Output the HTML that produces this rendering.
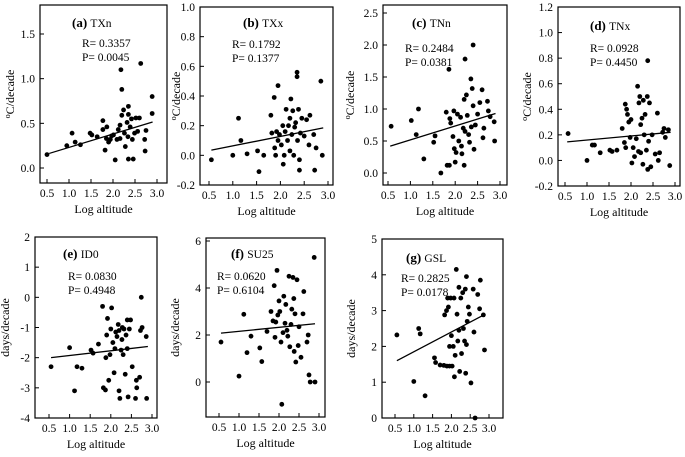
<!DOCTYPE html>
<html><head><meta charset="utf-8">
<style>
html,body{margin:0;padding:0;background:#fff;}
svg{display:block;}
svg text{font-family:"Liberation Serif","DejaVu Serif",serif;}
</style></head>
<body>
<svg id="chart" width="685" height="457" viewBox="0 0 685 457" font-family="Liberation Serif, serif"></svg>
<script>
const xTicks = [0.5, 1.0, 1.5, 2.0, 2.5, 3.0];
const panelTitles = ["(a)|TXn","(b)|TXx","(c)|TNn","(d)|TNx","(e)|ID0","(f)|SU25","(g)|GSL"];
const rLabels = ["R= 0.3357","R= 0.1792","R= 0.2484","R= 0.0928","R= 0.0830","R= 0.0620","R= 0.2825"];
const pLabels = ["P= 0.0045","P= 0.1377","P= 0.0381","P= 0.4450","P= 0.4948","P= 0.6104","P= 0.0178"];
const yTicksA = [0, 0.5, 1.0, 1.5];
const yTicksB = [-0.2, 0, 0.2, 0.4, 0.6, 0.8, 1.0];
const yTicksC = [0, 0.5, 1.0, 1.5, 2.0, 2.5];
const yTicksD = [-0.2, 0, 0.2, 0.4, 0.6, 0.8, 1.0, 1.2];
const yTicksE = [-4, -3, -2, -1, 0, 1, 2];
const yTicksF = [0, 2, 4, 6];
const yTicksG = [0, 1, 2, 3, 4, 5];
const fitA = [0.55, 0.163, 2.9, 0.515];
const fitB = [0.55, 0.035, 2.9, 0.185];
const fitC = [0.55, 0.42, 2.9, 0.93];
const fitD = [0.55, 0.145, 2.9, 0.22];
const fitE = [0.55, -2.0, 2.9, -1.63];
const fitF = [0.55, 2.08, 2.9, 2.48];
const fitG = [0.55, 1.6, 2.9, 2.9];
const dataA = [[0.5,0.15],[0.95,0.25],[1.07,0.39],[1.14,0.29],[1.26,0.26],[1.48,0.39],[1.52,0.37],[1.64,0.35],[1.77,0.43],[1.77,0.53],[1.82,0.2],[1.85,0.33],[1.86,0.46],[1.9,0.29],[1.94,0.32],[1.97,0.36],[2.01,0.37],[2.05,0.09],[2.09,0.32],[2.12,0.43],[2.16,0.33],[2.18,1.1],[2.2,0.88],[2.16,0.48],[2.2,0.59],[2.24,0.65],[2.26,0.39],[2.28,0.24],[2.32,0.51],[2.34,0.35],[2.35,0.69],[2.35,0.6],[2.35,0.1],[2.39,0.46],[2.42,0.55],[2.44,0.32],[2.46,0.1],[2.49,0.39],[2.52,0.56],[2.56,0.41],[2.6,0.56],[2.63,1.17],[2.72,0.32],[2.73,0.19],[2.75,0.42],[2.89,0.8],[2.89,0.61]];
const dataB = [[0.55,-0.03],[1.0,0.0],[1.12,0.25],[1.17,0.1],[1.3,0.01],[1.52,0.03],[1.55,-0.11],[1.65,0.0],[1.8,0.27],[1.82,0.15],[1.87,0.39],[1.88,0.05],[1.9,0.0],[1.92,0.16],[1.95,0.47],[1.95,0.1],[1.98,0.14],[2.02,0.07],[2.05,0.2],[2.06,-0.06],[2.08,0.0],[2.1,0.16],[2.12,0.31],[2.15,0.1],[2.17,0.2],[2.2,0.25],[2.2,0.03],[2.22,0.38],[2.24,0.14],[2.26,0.3],[2.28,0.0],[2.3,0.19],[2.32,0.22],[2.35,0.56],[2.35,0.53],[2.36,0.1],[2.38,0.31],[2.4,-0.03],[2.4,-0.1],[2.42,0.15],[2.45,0.25],[2.5,0.13],[2.55,0.24],[2.6,0.07],[2.62,0.27],[2.7,0.14],[2.72,-0.1],[2.75,0.05],[2.85,0.5],[2.88,0.0]];
const dataC = [[0.57,0.73],[1.02,0.82],[1.13,0.6],[1.18,1.0],[1.3,0.22],[1.52,0.48],[1.55,0.58],[1.68,0.0],[1.8,0.95],[1.82,0.12],[1.86,1.62],[1.87,0.12],[1.88,0.85],[1.9,0.78],[1.95,0.57],[1.97,0.97],[1.98,0.38],[2.0,0.17],[2.02,0.32],[2.05,0.92],[2.08,0.5],[2.12,0.87],[2.14,0.42],[2.15,0.3],[2.18,0.7],[2.2,1.15],[2.2,0.12],[2.22,1.78],[2.22,0.65],[2.25,1.22],[2.27,0.9],[2.3,0.6],[2.32,0.48],[2.35,1.47],[2.36,0.72],[2.38,1.32],[2.4,2.0],[2.4,1.05],[2.42,0.37],[2.45,0.75],[2.5,0.92],[2.55,1.1],[2.6,1.3],[2.62,0.55],[2.64,0.7],[2.72,1.12],[2.74,0.97],[2.78,0.88],[2.87,0.8],[2.88,0.5]];
const dataD = [[0.57,0.21],[1.0,0.0],[1.12,0.12],[1.17,0.12],[1.3,0.06],[1.52,0.08],[1.57,0.07],[1.68,0.08],[1.8,0.25],[1.85,0.14],[1.87,0.44],[1.88,0.1],[1.9,0.4],[1.92,0.36],[1.95,0.3],[1.98,0.18],[2.0,0.32],[2.02,-0.02],[2.05,0.1],[2.08,0.03],[2.12,0.17],[2.15,0.58],[2.17,0.07],[2.18,0.45],[2.2,0.5],[2.22,0.28],[2.22,0.06],[2.25,0.33],[2.27,-0.03],[2.28,0.47],[2.3,0.2],[2.32,0.36],[2.35,0.08],[2.37,0.5],[2.38,-0.07],[2.38,0.78],[2.4,0.15],[2.42,0.45],[2.45,-0.05],[2.48,0.2],[2.55,0.05],[2.6,0.37],[2.62,0.0],[2.65,0.06],[2.72,0.22],[2.75,0.25],[2.78,0.18],[2.85,0.24],[2.88,-0.04]];
const dataE = [[0.55,-2.3],[1.0,-1.67],[1.12,-3.1],[1.18,-2.3],[1.3,-2.35],[1.52,-1.75],[1.57,-1.85],[1.7,-1.55],[1.8,-0.3],[1.82,-3.0],[1.87,-3.07],[1.88,-2.0],[1.9,-1.25],[1.92,-0.7],[1.95,-2.75],[1.98,-1.9],[2.0,-1.05],[2.02,-0.35],[2.05,-1.5],[2.08,-2.5],[2.1,-1.7],[2.12,-1.15],[2.15,-1.3],[2.18,-0.9],[2.2,-1.1],[2.2,-3.1],[2.22,-3.35],[2.25,-1.75],[2.27,-1.4],[2.28,-1.0],[2.3,-1.9],[2.32,-1.05],[2.35,-2.55],[2.37,-1.25],[2.4,-0.75],[2.4,-1.7],[2.42,-3.3],[2.45,-1.05],[2.48,-0.75],[2.52,-2.3],[2.6,-3.35],[2.62,-2.75],[2.63,-3.0],[2.7,-2.65],[2.72,-1.1],[2.74,0.0],[2.76,-1.0],[2.86,-1.3],[2.87,-3.35]];
const dataF = [[0.55,1.7],[1.0,0.25],[1.12,2.88],[1.2,1.25],[1.3,1.95],[1.52,1.45],[1.57,0.87],[1.7,2.15],[1.8,3.0],[1.85,2.6],[1.88,4.1],[1.9,1.9],[1.92,2.55],[1.95,4.75],[1.97,2.85],[2.0,3.45],[2.02,3.0],[2.05,1.7],[2.07,-0.95],[2.1,2.1],[2.12,3.65],[2.15,2.5],[2.17,3.3],[2.2,2.2],[2.22,1.95],[2.25,4.5],[2.27,1.5],[2.3,2.45],[2.32,3.1],[2.35,4.45],[2.37,3.55],[2.38,1.3],[2.4,2.9],[2.42,0.85],[2.45,4.35],[2.48,1.55],[2.5,2.35],[2.55,1.05],[2.6,2.9],[2.62,3.85],[2.7,1.7],[2.73,2.0],[2.75,0.3],[2.78,0.0],[2.88,5.3],[2.9,0.0]];
const dataG = [[0.55,2.32],[1.0,1.02],[1.13,2.5],[1.17,2.35],[1.3,0.62],[1.55,1.68],[1.58,1.55],[1.7,1.48],[1.8,1.47],[1.82,2.88],[1.87,3.0],[1.88,1.45],[1.9,3.35],[1.92,3.1],[1.95,2.0],[1.95,1.45],[1.98,3.35],[2.0,2.3],[2.02,1.45],[2.05,2.0],[2.07,3.35],[2.08,1.15],[2.1,1.75],[2.13,4.15],[2.15,2.9],[2.17,2.15],[2.2,3.65],[2.2,2.45],[2.22,1.3],[2.25,3.35],[2.27,1.8],[2.3,3.5],[2.32,2.5],[2.35,2.15],[2.37,3.6],[2.38,1.25],[2.4,3.95],[2.4,2.05],[2.42,2.7],[2.45,3.1],[2.48,2.9],[2.52,0.98],[2.58,3.6],[2.6,2.4],[2.63,0.0],[2.7,3.45],[2.75,3.05],[2.77,3.85],[2.85,2.88],[2.88,1.9]];

// layout (not data)
const panels = [
 {id:"a",data:dataA,fit:fitA,yt:yTicksA,dec:1,yl:"oC",box:[40,5,167,183],xs:[47,157],ys:[0,168,1.5,34],tt:[72,27],rt:[82,47],yx:14},
 {id:"b",data:dataB,fit:fitB,yt:yTicksB,dec:1,yl:"oC",box:[200,7,333,185],xs:[209,328],ys:[1.0,7,-0.2,185],tt:[243,27],rt:[232,48],yx:180},
 {id:"c",data:dataC,fit:fitC,yt:yTicksC,dec:1,yl:"oC",box:[383,5,507,185],xs:[388,500],ys:[2.5,13,0,173],tt:[412,27],rt:[405,52],yx:354},
 {id:"d",data:dataD,fit:fitD,yt:yTicksD,dec:1,yl:"oC",box:[558,7,680,186],xs:[565,675],ys:[1.2,7,-0.2,186],tt:[590,30],rt:[590,52],yx:531},
 {id:"e",data:dataE,fit:fitE,yt:yTicksE,dec:0,yl:"days",box:[35,237,157,418],xs:[49,152],ys:[2,237,-4,418],tt:[63,258],rt:[68,280],yx:9},
 {id:"f",data:dataF,fit:fitF,yt:yTicksF,dec:0,yl:"days",box:[206,238,325,417],xs:[219,319],ys:[6,241,0,382],tt:[231,258],rt:[217,280],yx:179},
 {id:"g",data:dataG,fit:fitG,yt:yTicksG,dec:0,yl:"days",box:[382,239,503,418],xs:[395,489],ys:[5,239,0,418],tt:[406,262],rt:[401,282],yx:355}
];
const NS="http://www.w3.org/2000/svg";
const svg=document.getElementById("chart");
const FF='"Liberation Serif", serif';
function mk(tag,attrs,parent,text){const e=document.createElementNS(NS,tag);for(const k in attrs)e.setAttribute(k,attrs[k]);if(tag==="text")e.style.fontFamily=FF;if(text!==undefined)e.textContent=text;(parent||svg).appendChild(e);return e;}
panels.forEach((p,i)=>{
  const g=mk("g",{});
  
  
  const sx=v=>p.xs[0]+(v-0.5)/2.5*(p.xs[1]-p.xs[0]);
  const sy=v=>p.ys[1]+(v-p.ys[0])/(p.ys[2]-p.ys[0])*(p.ys[3]-p.ys[1]);
  const [x0,y0,x1,y1]=p.box;
  const box=mk("rect",{x:x0,y:y0,width:x1-x0,height:y1-y0,fill:"none",stroke:"#000","stroke-width":1.2},g);
  
  
  xTicks.forEach(t=>{
    const x=sx(t);
    const tk=mk("line",{x1:x,x2:x,y1:y1,y2:y1-4,stroke:"#000"},g);
    
    
    const tl=mk("text",{x:x,y:y1+14,"font-size":11.5,"text-anchor":"middle"},g,t.toFixed(1));
    
    
  });
  p.yt.forEach(t=>{
    const y=sy(t);
    const tk=mk("line",{x1:x0,x2:x0+4,y1:y,y2:y,stroke:"#000"},g);
    
    
    const tl=mk("text",{x:x0-5,y:y+4,"font-size":11.5,"text-anchor":"end"},g,t.toFixed(p.dec));
    
    
  });
  const xt=mk("text",{x:(x0+x1)/2,y:y1+30,"font-size":12,"text-anchor":"middle"},g,"Log altitude");
  
  
  const cy=(y0+y1)/2;
  const yt=mk("text",{x:p.yx,y:cy,"font-size":12,"text-anchor":"middle",transform:`rotate(-90 ${p.yx} ${cy})`},g);
  
  
  if(p.yl==="oC"){mk("tspan",{"font-size":8,dy:-4},yt,"o");mk("tspan",{dy:4},yt,"C/decade");}
  else yt.textContent="days/decade";
  const parts=panelTitles[i].split("|");
  const tt=mk("text",{x:p.tt[0],y:p.tt[1],"font-size":13},g);
  
  
  mk("tspan",{"font-weight":"bold"},tt,parts[0]+" ");
  mk("tspan",{"font-size":11.5},tt,parts[1]);
  const rt=mk("text",{x:p.rt[0],y:p.rt[1],"font-size":11.5},g,rLabels[i]);
  
  
  const pt=mk("text",{x:p.rt[0],y:p.rt[1]+14,"font-size":11.5},g,pLabels[i]);
  
  
  const f=p.fit;
  const fl=mk("line",{x1:sx(f[0]),y1:sy(f[1]),x2:sx(f[2]),y2:sy(f[3]),stroke:"#000","stroke-width":1.3},g);
  
  
  p.data.forEach(d=>{
    const c=mk("circle",{cx:sx(d[0]),cy:sy(d[1]),r:2.4,fill:"#000"},g);
    
    
  });
});
</script>
</body></html>
